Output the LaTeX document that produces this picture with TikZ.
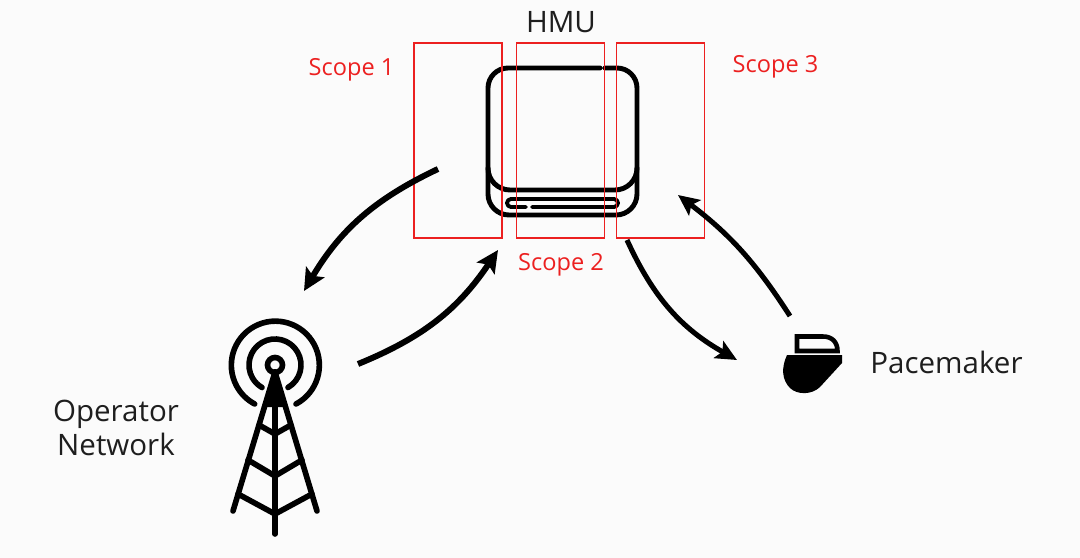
\documentclass[tikz,border=0pt]{standalone}
\usepackage{fontspec}
\setmainfont{Open Sans}
\usetikzlibrary{positioning,arrows.meta}
\definecolor{scopered}{RGB}{236,32,32}
\definecolor{paper}{RGB}{251,251,251}
\definecolor{inktext}{RGB}{30,30,30}
\tikzset{
  icon/.style={line width=2.8pt,black,line cap=round,line join=round},
  towerline/.style={line width=3.2pt,black,line cap=round,line join=round},
  scopebox/.style={draw=scopered,line width=0.7pt,inner sep=0pt,minimum width=50pt,minimum height=111pt},
  scopelabel/.style={text=scopered,inner sep=0pt,font=\fontsize{13.4}{15}\selectfont},
  mainlabel/.style={text=inktext,inner sep=0pt,align=center,font=\fontsize{16.8}{19.6}\selectfont},
  flow/.style={line width=3.4pt,black,-{Stealth[length=12.5pt,width=12pt,inset=2.5pt]}},
  flowthin/.style={line width=2.9pt,black,-{Stealth[length=12pt,width=11pt,inset=2.5pt]}}
}
\begin{document}
\begin{tikzpicture}[x=0.02cm,y=0.02cm]
\fill [paper] (0,0) rectangle (1080,-558);
\useasboundingbox (0,0) rectangle (1080,-558);
% hmu icon
\draw [icon] (600,-68) -- (508,-68) arc (90:180:20) -- (488,-168) arc (180:270:22) -- (615,-190) arc (270:360:22) -- (637,-88) arc (0:90:20) -- (605,-68);
\draw [icon] (488,-168) -- (488,-194) arc (180:270:21) -- (616,-215) arc (270:360:21) -- (637,-168);
\draw [icon,line width=2.2pt] (526,-207) -- (511,-207) arc (270:90:4) -- (614,-199) arc (90:-90:4) -- (532,-207);
% tower icon
\draw [towerline] (275,-365) circle (7.5);
\draw [towerline] (288,-387.5) arc (-60:240:26);
\draw [towerline] (296,-404) arc (-62:242:44);
\fill [black] (275,-372) -- (264,-407) -- (286,-407) -- cycle;
\draw [towerline] (275,-372) -- (233,-511);
\draw [towerline] (275,-372) -- (317,-511);
\draw [towerline] (275,-372) -- (275,-534);
\draw [towerline] (259,-425) -- (275,-434) -- (291,-425);
\draw [towerline] (248,-460) -- (275,-476) -- (302,-460);
\draw [towerline] (238,-494) -- (275,-514) -- (312,-494);
% pacemaker icon
\draw [icon,line width=2.6pt,line cap=butt,line join=miter] (797,-351) -- (797,-336.5) -- (823,-336.5) .. controls (832,-336.5) and (837.5,-342) .. (837.5,-351) -- cycle;
\fill [black] (787,-355) -- (842,-355) -- (842,-363) -- (820,-387) .. controls (812,-395) and (797,-395) .. (790,-388) .. controls (782,-380) and (781,-368) .. (787,-355) -- cycle;
% scopes
\node [scopebox] (scopeOne) at (458,-140.5) {};
\node [scopebox] (scopeTwo) at (560.5,-140.5) {};
\node [scopebox] (scopeThree) at (660.5,-140.5) {};
\node [scopelabel] (scopeOneText) at (351.5,-70) {Scope 1};
\node [scopelabel] (scopeTwoText) at (561,-265) {Scope 2};
\node [scopelabel] (scopeThreeText) at (775.5,-67) {Scope 3};
% labels
\node [mainlabel] (hmuText) at (561,-22) {HMU};
\node [mainlabel] (operatorText) at (116,-428) {Operator\\Network};
\node [mainlabel] (pacemakerText) at (946.5,-362) {Pacemaker};
% connector ends
\coordinate (hmuOut) at (438,-169);
\coordinate (towerIn) at (304,-291);
\coordinate (towerOut) at (358,-364);
\coordinate (hmuIn) at (498,-250);
\coordinate (scopeOut) at (627,-240);
\coordinate (paceIn) at (737,-360);
\coordinate (paceOut) at (790,-316);
\coordinate (scopeIn) at (678,-195);
\draw [flow] (hmuOut) to [bend right=17] (towerIn);
\draw [flow] (towerOut) to [bend right=17] (hmuIn);
\draw [flowthin] (scopeOut) to [bend right=18] (paceIn);
\draw [flowthin] (paceOut) to [bend right=10] (scopeIn);
\end{tikzpicture}
\end{document}
